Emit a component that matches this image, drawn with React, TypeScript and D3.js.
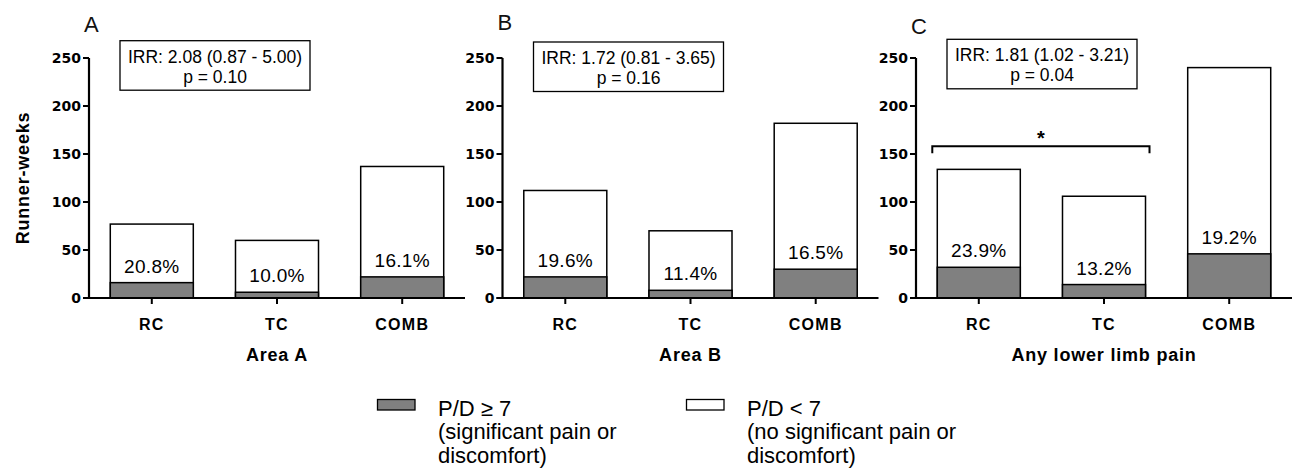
import React from "react";
import * as d3 from "d3";

const categories = ["RC", "TC", "COMB"];
const panelLetters = ["A", "B", "C"];
const panelTitles = ["Area A", "Area B", "Any lower limb pain"];
const significantWeeks = [
  [16, 6, 22],
  [22, 8, 30],
  [32, 14, 46],
];
const totalWeeks = [
  [77, 60, 137],
  [112, 70, 182],
  [134, 106, 240],
];
const pctLabels = [
  ["20.8%", "10.0%", "16.1%"],
  ["19.6%", "11.4%", "16.5%"],
  ["23.9%", "13.2%", "19.2%"],
];
const irrLines = [
  ["IRR: 2.08 (0.87 - 5.00)", "p = 0.10"],
  ["IRR: 1.72 (0.81 - 3.65)", "p = 0.16"],
  ["IRR: 1.81 (1.02 - 3.21)", "p = 0.04"],
];
const yTicks = [0, 50, 100, 150, 200, 250];
const sigBracket = { panel: 2, from: "RC", to: "TC", level: 158, label: "*" };
const legendItems = [
  { fill: "#808080", lines: ["P/D \u2265 7", "(significant pain or", "discomfort)"] },
  { fill: "#ffffff", lines: ["P/D < 7", "(no significant pain or", "discomfort)"] },
];

const FONT = "'Liberation Sans', Arial, Helvetica, sans-serif";
const TICKFONT = "'DejaVu Sans', 'Liberation Sans', Arial, sans-serif";
const W = 1292;
const H = 476;
const panelX = [89, 502.5, 916];
const panelW = 376;
const boxTop = [40.7, 42, 39.3];
const letterY = [32, 30, 34];
const legendSwatchX = [377.5, 686.5];
const legendTextX = [438, 747];

export default function App() {
  const y = d3.scaleLinear().domain([0, 250]).range([298, 58]);
  const x = d3
    .scaleBand<string>()
    .domain(categories)
    .range([0, panelW])
    .paddingInner(0.337)
    .paddingOuter(0.17);
  const bw = x.bandwidth();

  return (
    <svg
      width={W}
      height={H}
      style={{ position: "absolute", left: 0, top: 0, background: "#fff" }}
      fontFamily={FONT}
    >
      <rect x={0} y={0} width={W} height={H} fill="#fff" />
      <text
        transform={`translate(29,178) rotate(-90)`}
        textAnchor="middle"
        fontSize={18}
        fontWeight="bold"
        letterSpacing={0.8}
      >
        Runner-weeks
      </text>
      {panelX.map((px, pi) => (
        <g key={pi} transform={`translate(${px},0)`}>
          <text x={-5} y={letterY[pi]} fontSize={22} fill="#111">
            {panelLetters[pi]}
          </text>
          {categories.map((c, ci) => {
            const bx = x(c)!;
            const tot = totalWeeks[pi][ci];
            const sig = significantWeeks[pi][ci];
            return (
              <g key={c}>
                <rect
                  x={bx}
                  y={y(tot)}
                  width={bw}
                  height={y(0) - y(tot)}
                  fill="#fff"
                  stroke="#000"
                  strokeWidth={1.5}
                />
                <rect
                  x={bx}
                  y={y(sig)}
                  width={bw}
                  height={y(0) - y(sig)}
                  fill="#808080"
                  stroke="#000"
                  strokeWidth={1.5}
                />
                <text
                  x={bx + bw / 2}
                  y={y(sig) - 10}
                  textAnchor="middle"
                  fontSize={19}
                  letterSpacing={0.3}
                >
                  {pctLabels[pi][ci]}
                </text>
                <line
                  x1={bx + bw / 2}
                  x2={bx + bw / 2}
                  y1={y(0)}
                  y2={y(0) + 6}
                  stroke="#000"
                  strokeWidth={2}
                />
                <text
                  x={bx + bw / 2}
                  y={330}
                  textAnchor="middle"
                  fontSize={16}
                  fontWeight="bold"
                  letterSpacing={1.3}
                >
                  {c}
                </text>
              </g>
            );
          })}
          <line x1={0} x2={0} y1={y(250)} y2={y(0)} stroke="#000" strokeWidth={2.2} />
          <line x1={-6} x2={panelW} y1={y(0)} y2={y(0)} stroke="#000" strokeWidth={2} />
          {yTicks.map((t) => (
            <g key={t}>
              <line x1={-6} x2={0} y1={y(t)} y2={y(t)} stroke="#000" strokeWidth={2} />
              <text
                x={-8}
                y={y(t)}
                dy="0.36em"
                textAnchor="end"
                fontFamily={TICKFONT}
                fontSize={14}
                fontWeight="bold"
              >
                {t}
              </text>
            </g>
          ))}
          <text
            x={x("TC")! + bw / 2}
            y={361}
            textAnchor="middle"
            fontSize={18}
            fontWeight="bold"
            letterSpacing={0.8}
          >
            {panelTitles[pi]}
          </text>
          <rect
            x={31}
            y={boxTop[pi]}
            width={190}
            height={49.5}
            fill="#fff"
            stroke="#000"
            strokeWidth={1.3}
          />
          <text x={126} y={boxTop[pi] + 22} textAnchor="middle" fontSize={17.5}>
            {irrLines[pi][0]}
          </text>
          <text x={126} y={boxTop[pi] + 42} textAnchor="middle" fontSize={17.5}>
            {irrLines[pi][1]}
          </text>
          {sigBracket.panel === pi && (
            <g>
              <path
                d={`M${x(sigBracket.from)! - 5},${y(sigBracket.level) + 7}V${y(
                  sigBracket.level
                )}H${x(sigBracket.to)! + bw + 4}V${y(sigBracket.level) + 7}`}
                fill="none"
                stroke="#000"
                strokeWidth={2}
              />
              <text
                x={(x(sigBracket.from)! - 5 + x(sigBracket.to)! + bw + 4) / 2}
                y={y(sigBracket.level) - 1}
                textAnchor="middle"
                fontSize={20}
                fontWeight="bold"
              >
                {sigBracket.label}
              </text>
            </g>
          )}
        </g>
      ))}
      {legendItems.map((it, i) => (
        <g key={i}>
          <rect
            x={legendSwatchX[i]}
            y={399.5}
            width={37.5}
            height={10.5}
            fill={it.fill}
            stroke="#000"
            strokeWidth={1.3}
          />
          {it.lines.map((l, li) => (
            <text key={li} x={legendTextX[i]} y={415.5 + li * 23.5} fontSize={22}>
              {l}
            </text>
          ))}
        </g>
      ))}
    </svg>
  );
}
